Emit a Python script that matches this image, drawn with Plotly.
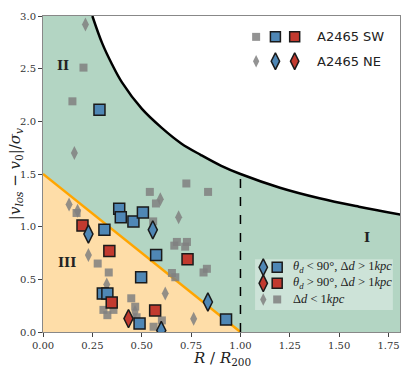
import plotly.graph_objects as go

# escape-velocity style curve
curve_R = [0.25, 0.3, 0.35, 0.4, 0.5, 0.6, 0.7, 0.8, 0.9, 1.0, 1.2, 1.4, 1.6, 1.81]
curve_v = [3.0, 2.74, 2.54, 2.37, 2.12, 1.94, 1.79, 1.68, 1.58, 1.5, 1.37, 1.27, 1.19, 1.115]

# orange separation line
line_R = [0.0, 1.0]
line_v = [1.5, 0.0]

# delta d < 1 kpc (grey)
grey_sq_R = [0.205, 0.149, 0.726, 0.541, 0.836, 0.572, 0.558, 0.678, 0.729, 0.72, 0.665, 0.17,
             0.277, 0.333, 0.306, 0.326, 0.357, 0.447, 0.467, 0.474, 0.602, 0.56, 0.653, 0.67, 0.83, 0.813]
grey_sq_v = [2.51, 2.19, 1.41, 1.33, 1.33, 1.22, 1.05, 0.855, 0.855, 0.81, 0.82, 1.13,
             0.65, 0.565, 0.21, 0.16, 0.21, 0.32, 0.24, 0.14, 0.11, 0.05, 0.56, 0.52, 0.60, 0.565]
grey_dm_R = [0.215, 0.159, 0.594, 0.687, 0.132, 0.23, 0.323, 0.466, 0.619, 0.763, 0.175]
grey_dm_v = [2.92, 1.70, 1.26, 1.09, 1.21, 0.73, 0.45, 0.19, 0.365, 0.125, 1.15]

# theta_d < 90 (blue)
blue_sq_R = [0.286, 0.386, 0.394, 0.458, 0.506, 0.311, 0.573, 0.497, 0.303, 0.326, 0.489, 0.927]
blue_sq_v = [2.11, 1.17, 1.09, 1.05, 1.135, 0.97, 0.73, 0.52, 0.365, 0.365, 0.08, 0.118]
blue_dm_R = [0.23, 0.556, 0.599, 0.835]
blue_dm_v = [0.93, 0.97, 0.015, 0.285]

# theta_d > 90 (red)
red_sq_R = [0.2, 0.336, 0.732, 0.348, 0.568]
red_sq_v = [1.01, 0.77, 0.69, 0.28, 0.205]
red_dm_R = [0.433]
red_dm_v = [0.127]

GREEN = "#b3d5c3"
ORANGE_FILL = "#fedda8"
GREY = "rgba(128,128,128,0.85)"
BLUE = "#4f87b5"
RED = "#c23a2f"
XMAX = 1.808

fig = go.Figure()

# green region under the curve
fig.add_trace(go.Scatter(
    x=[0, 0] + curve_R + [XMAX, XMAX, 0],
    y=[0, 3.0] + curve_v + [curve_v[-1], 0, 0],
    fill="toself", fillcolor=GREEN, line=dict(width=0), mode="lines",
    hoverinfo="skip", showlegend=False))
# orange triangle
fig.add_trace(go.Scatter(
    x=[0] + line_R + [0], y=[0] + line_v + [0],
    fill="toself", fillcolor=ORANGE_FILL, line=dict(width=0), mode="lines",
    hoverinfo="skip", showlegend=False))
fig.add_trace(go.Scatter(x=line_R, y=line_v, mode="lines",
                         line=dict(color="#ffa500", width=2.5), showlegend=False))
fig.add_trace(go.Scatter(x=curve_R, y=curve_v, mode="lines", line_shape="spline",
                         line=dict(color="black", width=2.5), showlegend=False))
# dashed R200 line
fig.add_shape(type="line", x0=1.0, x1=1.0, y0=0, y1=1.5, xref="x", yref="y",
              line=dict(color="black", width=1.5, dash="dash"))

fig.add_trace(go.Scatter(x=grey_sq_R, y=grey_sq_v, mode="markers",
                         marker=dict(symbol="square", size=8, color=GREY, line=dict(width=0)),
                         showlegend=False))
fig.add_trace(go.Scatter(x=grey_dm_R, y=grey_dm_v, mode="markers",
                         marker=dict(symbol="diamond-tall", size=10, color=GREY, line=dict(width=0)),
                         showlegend=False))
for R, v, sym, col, sz in [(blue_sq_R, blue_sq_v, "square", BLUE, 11),
                           (red_sq_R, red_sq_v, "square", RED, 11),
                           (blue_dm_R, blue_dm_v, "diamond-tall", BLUE, 13),
                           (red_dm_R, red_dm_v, "diamond-tall", RED, 13)]:
    fig.add_trace(go.Scatter(x=R, y=v, mode="markers",
                             marker=dict(symbol=sym, size=sz, color=col,
                                         line=dict(color="#1a1a1a", width=1.5)),
                             showlegend=False))

# hand-made legends on an axes-fraction overlay
fig.add_trace(go.Scatter(x=[0.594, 0.98, 0.98, 0.594, 0.594], y=[0.07, 0.07, 0.23, 0.23, 0.07],
                         xaxis="x2", yaxis="y2", mode="lines", fill="toself",
                         fillcolor="rgba(255,255,255,0.35)", line=dict(width=0),
                         showlegend=False, hoverinfo="skip"))


def leg(x, y, sym, col, sz, edge):
    fig.add_trace(go.Scatter(x=[x], y=[y], xaxis="x2", yaxis="y2", mode="markers",
                             marker=dict(symbol=sym, size=sz, color=col,
                                         line=dict(color="#1a1a1a", width=1.5 if edge else 0)),
                             showlegend=False, hoverinfo="skip"))


leg(0.597, 0.934, "square", GREY, 8, False)
leg(0.651, 0.934, "square", BLUE, 10, True)
leg(0.705, 0.934, "square", RED, 10, True)
leg(0.597, 0.857, "diamond-tall", GREY, 9, False)
leg(0.651, 0.857, "diamond-tall", BLUE, 12, True)
leg(0.705, 0.857, "diamond-tall", RED, 12, True)

leg(0.617, 0.205, "diamond-tall", BLUE, 12, True)
leg(0.656, 0.205, "square", BLUE, 10, True)
leg(0.617, 0.154, "diamond-tall", RED, 12, True)
leg(0.656, 0.154, "square", RED, 10, True)
leg(0.617, 0.103, "diamond-tall", GREY, 9, False)
leg(0.656, 0.103, "square", GREY, 8, False)

sans = dict(family="DejaVu Sans", size=13, color="#222")
serif_it = dict(family="Liberation Serif", size=12.5, color="#222")
fig.add_annotation(x=0.762, y=0.934, xref="paper", yref="paper", text="A2465 SW",
                   showarrow=False, xanchor="left", yanchor="middle", font=sans)
fig.add_annotation(x=0.762, y=0.857, xref="paper", yref="paper", text="A2465 NE",
                   showarrow=False, xanchor="left", yanchor="middle", font=sans)
fig.add_annotation(x=0.694, y=0.205, xref="paper", yref="paper",
                   text="<i>θ<sub>d</sub></i> < 90°, Δ<i>d</i> > 1<i>kpc</i>",
                   showarrow=False, xanchor="left", yanchor="middle", font=serif_it)
fig.add_annotation(x=0.694, y=0.154, xref="paper", yref="paper",
                   text="<i>θ<sub>d</sub></i> > 90°, Δ<i>d</i> > 1<i>kpc</i>",
                   showarrow=False, xanchor="left", yanchor="middle", font=serif_it)
fig.add_annotation(x=0.694, y=0.103, xref="paper", yref="paper",
                   text="Δ<i>d</i> < 1<i>kpc</i>",
                   showarrow=False, xanchor="left", yanchor="middle", font=serif_it)

# region labels
roman = dict(family="DejaVu Serif", size=13, color="#222")
for txt, x, y in [("<b>II</b>", 0.103, 2.53), ("<b>III</b>", 0.12, 0.66), ("<b>I</b>", 1.64, 0.9)]:
    fig.add_annotation(x=x, y=y, text=txt, showarrow=False, font=roman)

# axis titles placed by hand
title_font = dict(family="DejaVu Serif", size=15, color="#222")
fig.add_annotation(x=0.5, y=-0.05, xref="paper", yref="paper",
                   text="<i>R</i> / <i>R</i><sub>200</sub>", showarrow=False, borderpad=0,
                   xanchor="center", yanchor="top", font=title_font)
fig.add_annotation(x=-0.078, y=0.5, xref="paper", yref="paper", textangle=-90,
                   text="|<i>v<sub>los</sub></i> − <i>v</i><sub>0</sub>|/<i>σ<sub>v</sub></i>",
                   showarrow=False, xanchor="center", yanchor="middle", font=title_font)

tickfont = dict(family="DejaVu Serif", size=10, color="#333")
fig.update_layout(
    width=415, height=378,
    margin=dict(l=43, r=15, t=16, b=46),
    paper_bgcolor="white", plot_bgcolor="white",
    xaxis=dict(range=[0, XMAX], tickvals=[0, 0.25, 0.5, 0.75, 1.0, 1.25, 1.5, 1.75],
               ticktext=["0.00", "0.25", "0.50", "0.75", "1.00", "1.25", "1.50", "1.75"],
               showgrid=False, zeroline=False, ticks="outside", ticklen=4, tickcolor="#444",
               showline=True, linecolor="#888", linewidth=1, mirror=True, tickfont=tickfont,
               automargin=False),
    yaxis=dict(range=[0, 3.0], tickvals=[0, 0.5, 1.0, 1.5, 2.0, 2.5, 3.0],
               ticktext=["0.0", "0.5", "1.0", "1.5", "2.0", "2.5", "3.0"],
               showgrid=False, zeroline=False, ticks="outside", ticklen=4, tickcolor="#444",
               showline=True, linecolor="#888", linewidth=1, mirror=True, tickfont=tickfont,
               automargin=False),
    xaxis2=dict(range=[0, 1], overlaying="x", visible=False, anchor="y2"),
    yaxis2=dict(range=[0, 1], overlaying="y", visible=False, anchor="x2"),
)

# drop the browser's default page margin so the figure sits at the window corner
fig.write_html("out.html", config={"displayModeBar": False},
               post_script="document.body.style.margin='0';")
